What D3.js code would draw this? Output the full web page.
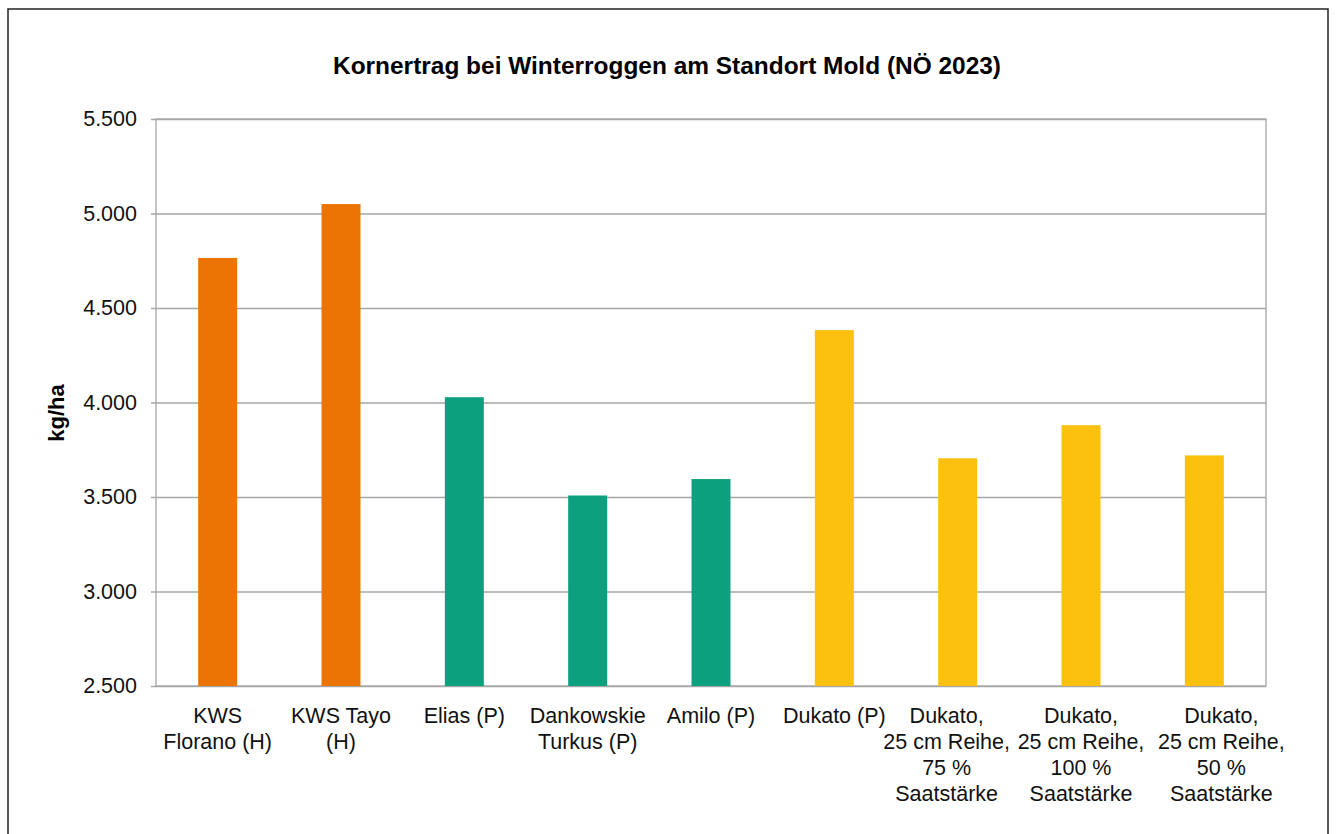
<!DOCTYPE html>
<html>
<head>
<meta charset="utf-8">
<script src="https://cdn.jsdelivr.net/npm/d3@7"></script>
<style>
  body { margin: 0; background: #fff; }
  svg { display: block; font-family: "Liberation Sans", Arial, sans-serif; }
</style>
</head>
<body>
<svg id="chart" width="1336" height="834"></svg>
<script>
// data
const categories = [
  "KWS\nFlorano (H)", "KWS Tayo\n(H)", "Elias (P)", "Dankowskie\nTurkus (P)", "Amilo (P)",
  "Dukato (P)", "Dukato,\n25 cm Reihe,\n75 %\nSaatstärke",
  "Dukato,\n25 cm Reihe,\n100 %\nSaatstärke", "Dukato,\n25 cm Reihe,\n50 %\nSaatstärke"
];
const yields = [4765, 5050, 4028, 3508, 3595, 4383, 3705, 3880, 3720];
const groups = ["H", "H", "P", "P", "P", "D", "D", "D", "D"];
const yTicks = [2500, 3000, 3500, 4000, 4500, 5000, 5500];

const color = d3.scaleOrdinal()
  .domain(["H", "P", "D"])
  .range(["#ec7405", "#0ca07e", "#fcc10e"]);

const svg = d3.select("#chart"),
      m   = {top: 119, right: 70, bottom: 148, left: 156},
      W   = 1336, H = 834,
      iw  = W - m.left - m.right,
      ih  = H - m.top - m.bottom;

// outer frame
svg.append("rect")
  .attr("x", 8).attr("y", 9)
  .attr("width", 1320).attr("height", 840)
  .attr("fill", "none")
  .attr("stroke", "#222")
  .attr("stroke-width", 1.5);

// title
svg.append("text")
  .attr("x", 667).attr("y", 74)
  .attr("text-anchor", "middle")
  .attr("textLength", 668)
  .attr("lengthAdjust", "spacingAndGlyphs")
  .style("font-size", "23px")
  .style("font-weight", "bold")
  .text("Kornertrag bei Winterroggen am Standort Mold (NÖ 2023)");

const x = d3.scaleBand()
  .domain(categories)
  .range([0, iw])
  .paddingInner(0.684)
  .paddingOuter(0.342);

const y = d3.scaleLinear()
  .domain([2500, 5500])
  .range([ih, 0]);

const g = svg.append("g")
  .attr("transform", `translate(${m.left},${m.top})`);

// y axis + gridlines
const yAxis = g.append("g")
  .call(d3.axisLeft(y).tickValues(yTicks)
    .tickFormat(d => d3.format(",")(d).replace(",", "."))
    .tickSize(-iw).tickPadding(14));
yAxis.select(".domain").remove();
yAxis.selectAll("line")
  .attr("x1", -5)
  .attr("stroke", "#a6a6a6")
  .attr("stroke-width", 1.3);
yAxis.selectAll("text")
  .attr("fill", "#111")
  .style("font-size", "21.5px")
  .attr("x", -19);

// plot frame
g.append("rect")
  .attr("width", iw).attr("height", ih)
  .attr("fill", "none")
  .attr("stroke", "#a6a6a6")
  .attr("stroke-width", 1.3);

// bars
g.selectAll("rect.bar")
  .data(categories).enter().append("rect")
    .attr("class", "bar")
    .attr("x", d => x(d))
    .attr("y", (d, i) => y(yields[i]))
    .attr("width", x.bandwidth())
    .attr("height", (d, i) => ih - y(yields[i]))
    .attr("fill", (d, i) => color(groups[i]));

// x labels (the crowded last ones get nudged apart, like Excel does)
const nudge = {6: -11, 8: 17};
const xl = g.append("g")
  .attr("transform", `translate(0,${ih})`);
categories.forEach((c, i) => {
  const cx = x(c) + x.bandwidth() / 2 + (nudge[i] || 0);
  const t = xl.append("text")
    .attr("x", cx)
    .attr("y", 37)
    .attr("text-anchor", "middle")
    .attr("fill", "#111")
    .style("font-size", "21.5px");
  c.split("\n").forEach((line, j) => {
    t.append("tspan")
      .attr("x", cx)
      .attr("dy", j ? 26 : 0)
      .text(line);
  });
});

// y label
svg.append("text")
  .attr("transform", "translate(64,413) rotate(-90)")
  .attr("text-anchor", "middle")
  .style("font-size", "22px")
  .style("font-weight", "bold")
  .text("kg/ha");
</script>
</body>
</html>
